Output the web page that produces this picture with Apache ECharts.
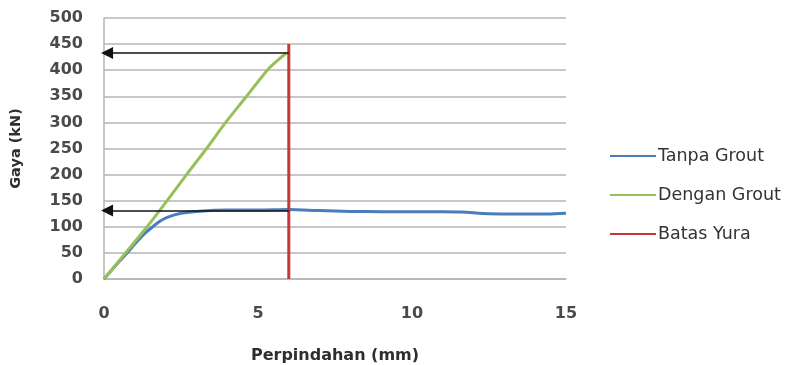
<!DOCTYPE html>
<html>
<head>
<meta charset="utf-8">
<script src="https://cdn.jsdelivr.net/npm/echarts@6/dist/echarts.min.js"></script>
<style>
  html, body { margin: 0; padding: 0; background: #ffffff; }
  #chart { width: 790px; height: 365px; }
</style>
</head>
<body>
<div id="chart"></div>
<script>
// Displacement (mm) vs. force (kN)
const tanpaGroutX = [0, 0.5, 0.75, 1, 1.3, 1.6, 1.8, 2.05, 2.5, 3.1, 4, 5, 6, 7, 8, 9, 10, 11, 11.6, 12.5, 13.5, 14.4, 15];
const tanpaGroutY = [0, 34, 50, 67, 86, 101, 110, 118, 126, 130, 132, 132, 133, 131, 129.5, 129, 129, 129, 128.5, 125, 124.5, 124.5, 126];

const denganGroutX = [0, 0.7, 1.4, 2.05, 2.68, 3.33, 3.95, 4.63, 5.3, 5.6, 5.92];
const denganGroutY = [0, 50, 100, 150, 200, 250, 300, 350, 400, 417, 433];

const batasYuraX = [6, 6];
const batasYuraY = [0, 450];

// Horizontal arrows reading the force at the yield limit
const arrowLevels = [433, 131];
const arrowFromX = 6;
const arrowToX = 0.1;

const xTicks = { min: 0, max: 15, interval: 5 };
const yTicks = { min: 0, max: 500, interval: 50 };

const pairs = (xs, ys) => xs.map((x, i) => [x, ys[i]]);

const chart = echarts.init(document.getElementById('chart'), null, { renderer: 'canvas' });

const font = 'DejaVu Sans, Verdana, sans-serif';
const gridColor = '#b5b5b5';
const labelColor = '#4a4a4a';

chart.setOption({
  backgroundColor: '#ffffff',
  animation: false,
  textStyle: { fontFamily: font },
  grid: { left: 104, right: 224, top: 18, bottom: 86, containLabel: false, outerBoundsMode: 'none' },
  legend: {
    orient: 'vertical',
    left: 610,
    top: 147,
    icon: 'rect',
    itemWidth: 46,
    itemHeight: 2,
    itemGap: 21,
    padding: 0,
    data: ['Tanpa Grout', 'Dengan Grout', 'Batas Yura'],
    textStyle: { fontFamily: font, fontSize: 17.5, color: '#333333', padding: [0, 0, 0, -3] }
  },
  xAxis: {
    type: 'value',
    min: xTicks.min,
    max: xTicks.max,
    interval: xTicks.interval,
    name: 'Perpindahan (mm)',
    nameLocation: 'middle',
    nameGap: 69,
    nameTextStyle: { fontFamily: font, fontSize: 16, fontWeight: 'bold', color: '#2e2e2e' },
    axisLine: { show: true, lineStyle: { color: gridColor, width: 1.5 } },
    axisTick: { show: false },
    splitLine: { show: false },
    axisLabel: { margin: 27, fontFamily: font, fontSize: 16, fontWeight: 'bold', color: labelColor }
  },
  yAxis: {
    type: 'value',
    min: yTicks.min,
    max: yTicks.max,
    interval: yTicks.interval,
    name: 'Gaya (kN)',
    nameLocation: 'middle',
    nameGap: 80,
    nameTextStyle: { fontFamily: font, fontSize: 14.5, fontWeight: 'bold', color: '#2e2e2e' },
    axisLine: { show: true, lineStyle: { color: gridColor, width: 1.5 } },
    axisTick: { show: false },
    splitLine: { show: true, lineStyle: { color: gridColor, width: 1.5 } },
    axisLabel: { margin: 21, fontFamily: font, fontSize: 16, fontWeight: 'bold', color: labelColor }
  },
  series: [
    {
      name: 'Tanpa Grout',
      type: 'line',
      data: pairs(tanpaGroutX, tanpaGroutY),
      symbol: 'none',
      smooth: 0.3,
      color: '#4a7ebb',
      lineStyle: { width: 3, color: '#4a7ebb' },
      z: 2
    },
    {
      name: 'Dengan Grout',
      type: 'line',
      data: pairs(denganGroutX, denganGroutY),
      symbol: 'none',
      smooth: 0.3,
      color: '#98c05a',
      lineStyle: { width: 3, color: '#98c05a' },
      z: 3
    },
    {
      name: 'Batas Yura',
      type: 'line',
      data: pairs(batasYuraX, batasYuraY),
      symbol: 'none',
      color: '#c8363a',
      lineStyle: { width: 3, color: '#c8363a' },
      z: 4,
      markLine: {
        silent: true,
        symbol: ['none', 'triangle'],
        symbolSize: 12,
        label: { show: false },
        emphasis: { disabled: true },
        lineStyle: { type: 'solid', color: '#111111', width: 1.5 },
        itemStyle: { color: '#111111' },
        data: arrowLevels.map(v => [
          { coord: [arrowFromX, v] },
          { coord: [arrowToX, v] }
        ])
      }
    }
  ]
});
</script>
</body>
</html>
